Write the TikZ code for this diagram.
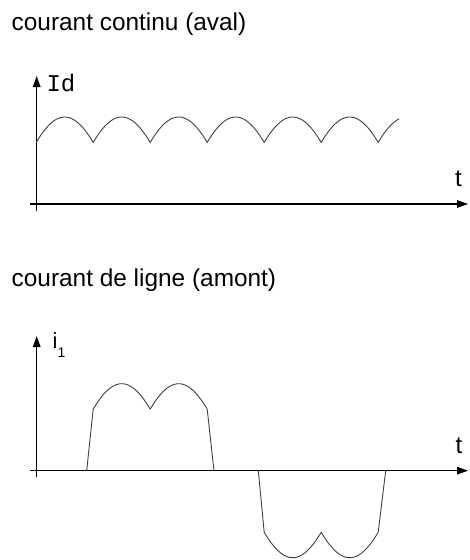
\documentclass[tikz,border=0pt]{standalone}
\usepackage{fontspec}
\setmainfont{Liberation Sans}
\newfontfamily\idfont{Liberation Mono}
\usetikzlibrary{arrows.meta}
\begin{document}
\begin{tikzpicture}[x=1pt,y=1pt,
  axis/.style={line width=1.3pt, -{Triangle[length=11pt,width=7.5pt]}},
  wave/.style={line width=0.9pt, black!75, line join=round},
  title/.style={anchor=base west, inner sep=0pt, font=\fontsize{24.4}{28}\selectfont},
  lbl/.style={anchor=base west, inner sep=0pt}]
\useasboundingbox (0,0) rectangle (469,-560);

% ---- top graph: courant continu ----
\node[title] (t1) at (11.5,-30.5) {courant continu (aval)};
\coordinate (y1b) at (36.7,-211);
\coordinate (y1t) at (36.7,-76);
\coordinate (x1b) at (30,-204);
\coordinate (x1e) at (468,-204);
\draw[axis] (y1b) -- (y1t);
\draw[axis] (x1b) -- (x1e);
\node[lbl, font=\idfont\fontsize{24}{28}\selectfont] (id) at (46.4,-91.7) {Id};
\node[lbl, font=\fontsize{24}{28}\selectfont] (tt1) at (455,-186.7) {t};
\draw[wave] plot[samples at={0,...,242}]
  ({36.2+1.5*\x},{-204+87*cos((mod(\x,38)*1.5-28.5)*180/114)});

% ---- bottom graph: courant de ligne ----
\node[title] (t2) at (11.5,-286.7) {courant de ligne (amont)};
\coordinate (y2b) at (36.7,-477);
\coordinate (y2t) at (36.7,-336);
\coordinate (x2b) at (30,-470.7);
\coordinate (x2e) at (468,-470.7);
\draw[axis] (y2b) -- (y2t);
\draw[axis] (x2b) -- (x2e);
\node[lbl, font=\fontsize{22}{26}\selectfont] (i1) at (52.5,-348.3)
  {i\raisebox{-9pt}{\fontsize{14}{14}\selectfont 1}};
\node[lbl, font=\fontsize{24}{28}\selectfont] (tt2) at (455.5,-453.3) {t};

\coordinate (p1s) at (86.7,-470.7);
\coordinate (p1e) at (214,-470.7);
\coordinate (n1s) at (258.3,-470.7);
\coordinate (n1e) at (385.7,-470.7);
\draw[wave] (p1s) -- plot[samples at={0,...,76}]
  ({93.2+1.5*\x},{-470.7+87*cos((mod(\x,38)*1.5-28.5)*180/114)}) -- (p1e);
\draw[wave] (n1s) -- plot[samples at={0,...,76}]
  ({264.2+1.5*\x},{-470.7-87*cos((mod(\x,38)*1.5-28.5)*180/114)}) -- (n1e);
\end{tikzpicture}
\end{document}
